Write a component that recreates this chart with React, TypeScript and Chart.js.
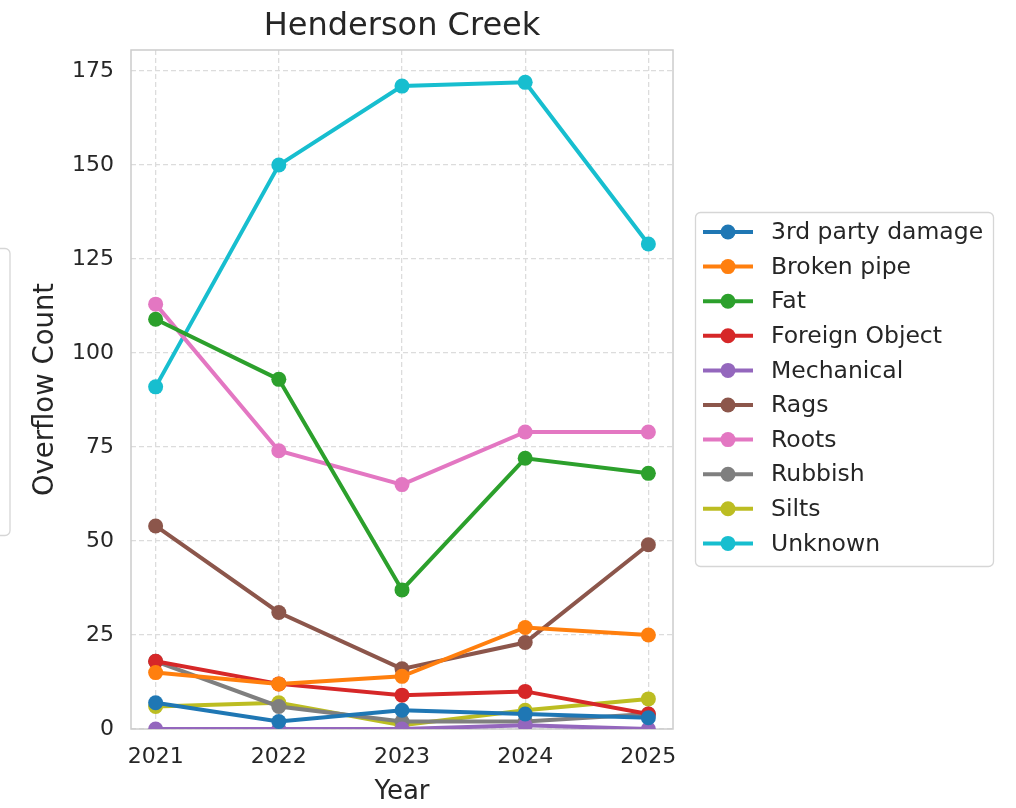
import React, { useEffect, useRef } from "react";
import { Chart, registerables } from "chart.js";

Chart.register(...registerables);

const years = [2021, 2022, 2023, 2024, 2025];
const seriesNames = [
  "3rd party damage",
  "Broken pipe",
  "Fat",
  "Foreign Object",
  "Mechanical",
  "Rags",
  "Roots",
  "Rubbish",
  "Silts",
  "Unknown",
];
const thirdParty = [7, 2, 5, 4, 3];
const brokenPipe = [15, 12, 14, 27, 25];
const fat = [109, 93, 37, 72, 68];
const foreignObject = [18, 12, 9, 10, 4];
const mechanical = [0, 0, 0, 1, 0];
const rags = [54, 31, 16, 23, 49];
const roots = [113, 74, 65, 79, 79];
const rubbish = [18, 6, 2, 2, 4];
const silts = [6, 7, 1, 5, 8];
const unknown = [91, 150, 171, 172, 129];
const seriesValues = [thirdParty, brokenPipe, fat, foreignObject, mechanical, rags, roots, rubbish, silts, unknown];
const colors = ["#1f77b4", "#ff7f0e", "#2ca02c", "#d62728", "#9467bd", "#8c564b", "#e377c2", "#7f7f7f", "#bcbd22", "#17becf"];
const yTicks = [0, 25, 50, 75, 100, 125, 150, 175];
const chartTitle = "Henderson Creek";

const FONT = "'DejaVu Sans', sans-serif";
const TEXT = "#262626";

export default function App() {
  const ref = useRef<HTMLCanvasElement | null>(null);

  useEffect(() => {
    const canvas = ref.current;
    if (!canvas) return;

    const framePlugin = {
      id: "frame",
      beforeDatasetsDraw(chart: any) {
        const { ctx, chartArea: a } = chart;
        ctx.save();
        ctx.strokeStyle = "#cccccc";
        ctx.lineWidth = 1.5;
        ctx.strokeRect(a.left, a.top, a.right - a.left, a.bottom - a.top);
        ctx.restore();
      },
      afterDraw(chart: any) {
        const ctx = chart.ctx;
        const a = chart.chartArea;
        ctx.save();
        // title centred over the plot area
        ctx.fillStyle = TEXT;
        ctx.font = `32px ${FONT}`;
        ctx.textAlign = "center";
        ctx.textBaseline = "alphabetic";
        ctx.fillText(chartTitle, (a.left + a.right) / 2, 35);
        // partial box at the left edge
        ctx.strokeStyle = "#d6d6d6";
        ctx.lineWidth = 1.3;
        ctx.beginPath();
        (ctx as any).roundRect(-60, 248.5, 70, 287, 5);
        ctx.stroke();
        // legend
        const bx = 695.5, by = 212.5, bw = 298, bh = 354;
        ctx.fillStyle = "#ffffff";
        ctx.beginPath();
        (ctx as any).roundRect(bx, by, bw, bh, 5);
        ctx.fill();
        ctx.stroke();
        const rowH = 34.6;
        ctx.font = `23.5px ${FONT}`;
        ctx.textBaseline = "middle";
        ctx.textAlign = "left";
        chart.data.datasets.forEach((ds: any, i: number) => {
          const cy = 232 + i * rowH;
          ctx.strokeStyle = ds.borderColor;
          ctx.lineWidth = 4;
          ctx.lineCap = "butt";
          ctx.beginPath();
          ctx.moveTo(703, cy);
          ctx.lineTo(753, cy);
          ctx.stroke();
          ctx.fillStyle = ds.borderColor;
          ctx.beginPath();
          ctx.arc(728, cy, 7.5, 0, Math.PI * 2);
          ctx.fill();
          ctx.fillStyle = TEXT;
          ctx.fillText(ds.label, 771, cy + 1);
        });
        ctx.restore();
      },
    };

    const chart = new Chart(canvas, {
      type: "line",
      data: {
        datasets: seriesNames.map((name, i) => ({
          label: name,
          data: years.map((yr, j) => ({ x: yr, y: seriesValues[i][j] })),
          borderColor: colors[i],
          backgroundColor: colors[i],
          borderWidth: 4,
          pointRadius: 7.5,
          pointHoverRadius: 7.5,
          pointBorderWidth: 0,
          tension: 0,
          clip: 0,
        })),
      },
      options: {
        animation: false,
        responsive: false,
        maintainAspectRatio: false,
        layout: { padding: { left: 0, right: 343, top: 50, bottom: 0 } },
        plugins: {
          legend: { display: false },
          tooltip: { enabled: false },
          title: { display: false },
        },
        scales: {
          x: {
            type: "linear",
            min: 2020.8,
            max: 2025.2,
            afterBuildTicks: (scale: any) => {
              scale.ticks = years.map((v) => ({ value: v }));
            },
            afterFit: (scale: any) => {
              scale.height = 79;
            },
            ticks: {
              stepSize: 1,
              includeBounds: false,
              color: TEXT,
              padding: 15,
              maxRotation: 0,
              autoSkip: false,
              font: { family: FONT, size: 22 },
              callback: (v: any) => String(v),
            },
            grid: { color: "#dcdcdc", lineWidth: 1.3, drawTicks: false },
            border: { display: false, dash: [5, 3] },
            title: {
              display: true,
              text: "Year",
              color: TEXT,
              font: { family: FONT, size: 26, lineHeight: 1.2 },
              padding: { top: 2, bottom: 0 },
            },
          },
          y: {
            min: 0,
            max: 180.6,
            afterBuildTicks: (scale: any) => {
              scale.ticks = yTicks.map((v) => ({ value: v }));
            },
            afterFit: (scale: any) => {
              scale.width = 131;
            },
            ticks: {
              stepSize: 25,
              includeBounds: false,
              color: TEXT,
              padding: 17,
              font: { family: FONT, size: 22 },
              callback: (v: any) => String(v),
            },
            grid: { color: "#dcdcdc", lineWidth: 1.3, drawTicks: false },
            border: { display: false, dash: [5, 3] },
            title: {
              display: true,
              text: "Overflow Count",
              color: TEXT,
              font: { family: FONT, size: 27.5, lineHeight: 1.2 },
              padding: { top: 29, bottom: 0 },
            },
          },
        },
      },
      plugins: [framePlugin],
    } as any);

    return () => chart.destroy();
  }, []);

  return (
    <div style={{ position: "fixed", left: 0, top: 0, width: 1016, height: 808, background: "#ffffff" }}>
      <canvas ref={ref} width={1016} height={808} style={{ display: "block", width: 1016, height: 808 }} />
    </div>
  );
}
